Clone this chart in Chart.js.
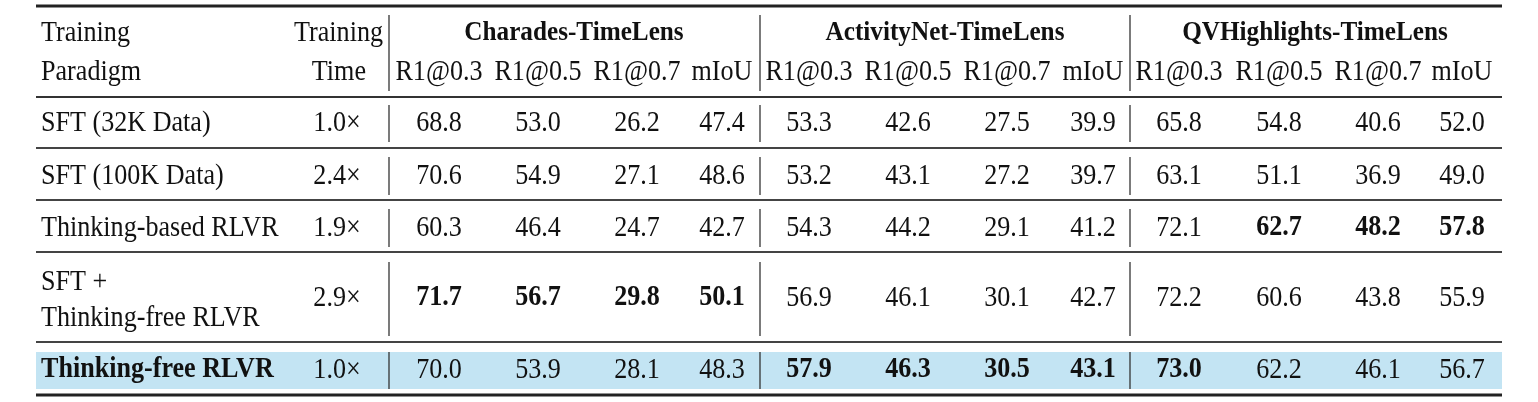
<!DOCTYPE html>
<html><head><meta charset="utf-8">
<script src="https://cdn.jsdelivr.net/npm/chart.js@4"></script>
<style>html,body{margin:0;padding:0;background:#fff}#w{width:1538px;height:402px}</style>
</head><body><div id="w"><canvas id="c"></canvas></div>
<script>
const paradigms = [["SFT (32K Data)"],["SFT (100K Data)"],["Thinking-based RLVR"],["SFT +","Thinking-free RLVR"],["Thinking-free RLVR"]];
const trainingTime = ["1.0×","2.4×","1.9×","2.9×","1.0×"];
const groups = ["Charades-TimeLens","ActivityNet-TimeLens","QVHighlights-TimeLens"];
const metrics = ["R1@0.3","R1@0.5","R1@0.7","mIoU"];
const values = [
 [68.8,53.0,26.2,47.4, 53.3,42.6,27.5,39.9, 65.8,54.8,40.6,52.0],
 [70.6,54.9,27.1,48.6, 53.2,43.1,27.2,39.7, 63.1,51.1,36.9,49.0],
 [60.3,46.4,24.7,42.7, 54.3,44.2,29.1,41.2, 72.1,62.7,48.2,57.8],
 [71.7,56.7,29.8,50.1, 56.9,46.1,30.1,42.7, 72.2,60.6,43.8,55.9],
 [70.0,53.9,28.1,48.3, 57.9,46.3,30.5,43.1, 73.0,62.2,46.1,56.7]
];
const bold = [
 [0,0,0,0,0,0,0,0,0,0,0,0],
 [0,0,0,0,0,0,0,0,0,0,0,0],
 [0,0,0,0,0,0,0,0,0,1,1,1],
 [1,1,1,1,0,0,0,0,0,0,0,0],
 [0,0,0,0,1,1,1,1,1,0,0,0]
];
const highlightRow = 4;

// layout (pixel-space coordinates on linear scales)
const colX = [439,538,637,722, 809,908,1007,1093, 1179,1279,1378,1462];
const groupX = [574,945,1315];
const vLines = [389,760,1130];
const rowY = [123,176,228,298,370];
const rowLines = [148,200,252,342];
const L=36,R=1502;

const tablePlugin = {
 id:'table',
 afterDraw(chart){
  const ctx=chart.ctx, xs=chart.scales.x, ys=chart.scales.y;
  const X=v=>xs.getPixelForValue(v), Y=v=>ys.getPixelForValue(v);
  const SX=0.9;
  function txt(s,x,y,align,b,size){
   ctx.save();
   ctx.font=(b?'bold ':'')+(size||29)+'px "Liberation Serif", "DejaVu Serif", serif';
   ctx.fillStyle='#111';ctx.textBaseline='middle';ctx.textAlign=align;
   ctx.translate(x,y);ctx.scale(SX,1);ctx.fillText(s,0,0);ctx.restore();
  }
  function hline(y,w,c){ctx.save();ctx.strokeStyle=c||'#111';ctx.lineWidth=w;ctx.beginPath();ctx.moveTo(X(L),Y(y));ctx.lineTo(X(R),Y(y));ctx.stroke();ctx.restore();}
  function vline(x,y0,y1){ctx.save();ctx.strokeStyle='#333';ctx.lineWidth=1.3;ctx.beginPath();ctx.moveTo(X(x),Y(y0));ctx.lineTo(X(x),Y(y1));ctx.stroke();ctx.restore();}
  // highlight
  ctx.save();ctx.fillStyle='#c3e4f3';ctx.fillRect(X(L),Y(352),X(R)-X(L),Y(389)-Y(352));ctx.restore();
  hline(6,3,'#222');hline(97,2,'#333');
  rowLines.forEach(y=>hline(y,2,'#444'));
  hline(395,3,'#222');
  // vertical lines
  const segs=[[15,91],[105,142],[157,195],[209,247],[262,336],[352,389]];
  vLines.forEach((x,i)=>segs.forEach(s=>{ if(i===0||s[0]!==15) vline(x,s[0],s[1]); else vline(x,15,91);}));
  // headers
  txt("Training",41,33,'left',false);txt("Paradigm",41,72,'left',false);
  txt("Training",383,33,'right',false);txt("Time",366,72,'right',false);
  groups.forEach((g,i)=>txt(g,groupX[i],33,'center',true,28));
  colX.forEach((x,i)=>txt(metrics[i%4],x,72,'center',false));
  // rows
  paradigms.forEach((p,r)=>{
   const b=r===highlightRow;
   if(p.length===1) txt(p[0],41,rowY[r],'left',b);
   else {txt(p[0],41,282,'left',b);txt(p[1],41,318,'left',b);}
   txt(trainingTime[r],337,rowY[r],'center',false);
   values[r].forEach((v,c)=>txt(v.toFixed(1),colX[c],rowY[r],'center',!!bold[r][c]));
  });
 }
};

new Chart(document.getElementById('c'),{
 type:'scatter',
 data:{datasets:[{data:[],pointRadius:0}]},
 options:{responsive:true,maintainAspectRatio:false,animation:false,
  layout:{padding:0},
  plugins:{legend:{display:false},tooltip:{enabled:false}},
  scales:{x:{type:'linear',min:0,max:1538,display:false},y:{type:'linear',min:0,max:402,reverse:true,display:false}}},
 plugins:[tablePlugin]
});
</script></body></html>
